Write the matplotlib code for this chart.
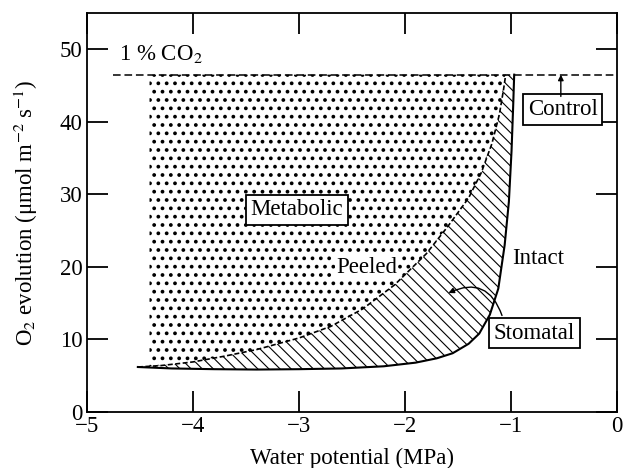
import numpy as np
import matplotlib
matplotlib.use("Agg")
import matplotlib.pyplot as plt

plt.rcParams['font.family'] = ['Liberation Serif', 'DejaVu Serif']
plt.rcParams['mathtext.fontset'] = 'stix'
plt.rcParams['hatch.color'] = 'black'

# O2 evolution of intact leaves vs water potential
intact_x = [-4.52, -4.2, -3.8, -3.4, -3.0, -2.6, -2.2, -1.9, -1.7, -1.55, -1.4,
            -1.3, -1.2, -1.12, -1.06, -1.02, -0.995, -0.98, -0.97]
intact_y = [6.2, 6.0, 5.9, 5.85, 5.9, 6.0, 6.3, 6.8, 7.4, 8.1, 9.4,
            10.8, 13.4, 17.0, 23.0, 29.0, 36.0, 42.0, 46.5]

# peeled leaves (epidermis removed)
peeled_x = [-4.52, -4.3, -4.0, -3.7, -3.4, -3.0, -2.7, -2.4, -2.1, -1.8, -1.6,
            -1.4, -1.28, -1.18, -1.11, -1.07, -1.05]
peeled_y = [6.2, 6.4, 6.9, 7.7, 8.6, 10.2, 11.8, 14.2, 17.5, 21.8, 25.5,
            29.5, 33.0, 37.0, 41.0, 44.5, 46.5]

control_y = 46.5
control_x = [-4.75, 0]
metabolic_left = -4.41

fig = plt.figure(figsize=(6.23, 4.68), dpi=100)
ax = fig.add_axes([0.1396, 0.1197, 0.8508, 0.8525])

# dotted (metabolic) region
y_left = np.interp(metabolic_left, peeled_x, peeled_y)
px = np.array(peeled_x)
py = np.array(peeled_y)
keep = px > metabolic_left
dot_x = np.concatenate([[metabolic_left, metabolic_left], px[keep]])
dot_y = np.concatenate([[control_y, y_left], py[keep]])
with plt.rc_context({'hatch.linewidth': 1.5}):
    dots = ax.fill(dot_x, dot_y, facecolor='white', edgecolor='black', hatch='..', lw=0)[0]
if hasattr(dots, 'set_hatch_linewidth'):
    dots.set_hatch_linewidth(1.5)

# hatched (stomatal) region between the curves
st_x = np.concatenate([intact_x, peeled_x[::-1]])
st_y = np.concatenate([intact_y, peeled_y[::-1]])
with plt.rc_context({'hatch.linewidth': 0.8}):
    lines = ax.fill(st_x, st_y, facecolor='white', edgecolor='black', hatch='\\\\\\', lw=0)[0]
if hasattr(lines, 'set_hatch_linewidth'):
    lines.set_hatch_linewidth(0.8)

ax.plot(intact_x, intact_y, color='black', lw=1.5)
ax.plot(peeled_x, peeled_y, color='black', lw=1.2, ls=(0, (3, 1.5)))
ax.plot(control_x, [control_y, control_y], color='black', lw=1.1, ls=(0, (5, 2.5)))

fs = 16.5
ax.text(-4.7, 49.3, '1 % CO$_2$', fontsize=fs, va='center', ha='left')
box = dict(boxstyle='square,pad=0.2', facecolor='white', edgecolor='black', lw=1.3)
ax.text(-3.02, 27.9, 'Metabolic', fontsize=fs, ha='center', va='center', bbox=box)
ax.text(-2.36, 19.9, 'Peeled', fontsize=fs, ha='center', va='center',
        bbox=dict(boxstyle='square,pad=0.05', facecolor='white', edgecolor='none'))
ax.text(-0.745, 21.2, 'Intact', fontsize=fs, ha='center', va='center')
ax.text(-0.78, 10.85, 'Stomatal', fontsize=fs, ha='center', va='center', bbox=box)
ax.text(-0.51, 41.7, 'Control', fontsize=fs, ha='center', va='center', bbox=box)

ax.annotate('', xy=(-0.53, control_y), xytext=(-0.53, 43.5),
            arrowprops=dict(arrowstyle='-|>', color='black', lw=1.0,
                            mutation_scale=8, shrinkA=0, shrinkB=0))
ax.annotate('', xy=(-1.59, 16.4), xytext=(-1.085, 13.3),
            arrowprops=dict(arrowstyle='-|>', color='black', lw=1.0,
                            mutation_scale=8, shrinkA=0, shrinkB=0,
                            connectionstyle='arc3,rad=0.55'))

ax.set_xlim(-5, 0)
ax.set_ylim(0, 55)
ax.set_xticks([-5, -4, -3, -2, -1, 0])
ax.set_yticks([0, 10, 20, 30, 40, 50])
ax.tick_params(direction='in', length=15, width=1.3, top=True, right=True,
               labelsize=fs, pad=3)
for s in ax.spines.values():
    s.set_linewidth(1.3)
ax.set_xlabel('Water potential (MPa)', fontsize=fs, labelpad=8)
ax.set_ylabel('O$_2$ evolution (μmol m$^{-2}$ s$^{-1}$)', fontsize=fs, labelpad=14)

fig.savefig('out.png', dpi=100)
